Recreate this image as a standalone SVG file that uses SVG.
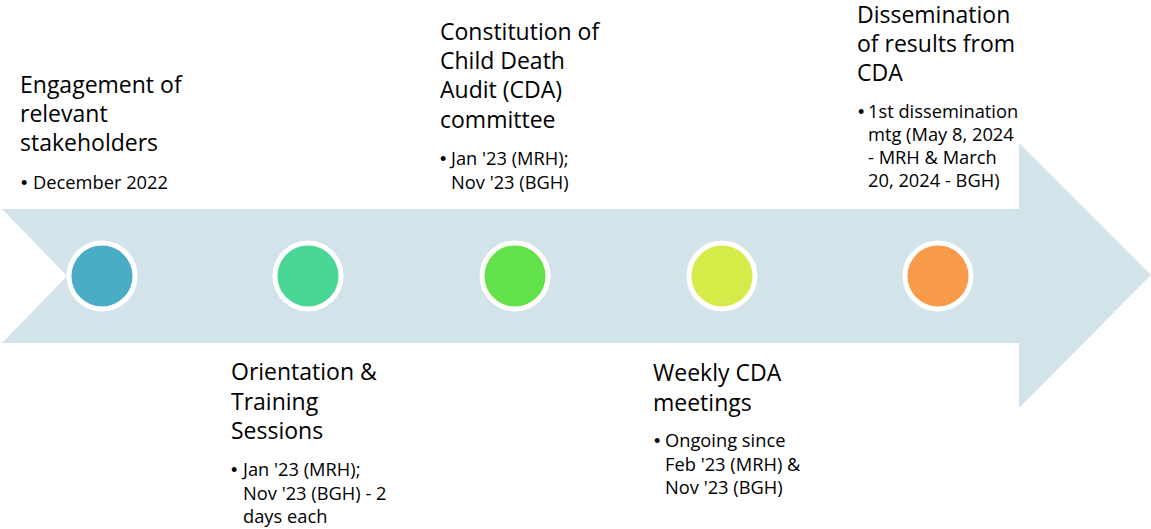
<svg xmlns="http://www.w3.org/2000/svg" width="1151" height="529" viewBox="0 0 1151 529">
<style>
.t{font-family:"Open Sans","Liberation Sans",sans-serif;font-size:23px;fill:#000}
.b{font-family:"Open Sans","Liberation Sans",sans-serif;font-size:18.3px;fill:#000}
.d{font-family:"Liberation Sans",sans-serif;font-size:18px;fill:#000}
.c{stroke:#fff;stroke-width:5}
</style>
<rect width="1151" height="529" fill="#fff"/>
<g id="arrow">
<path d="M2,209 L1019,209 L1019,143 L1151,275 L1019,408 L1019,343 L2,343 L67,276 Z" fill="#D2E3EA"/>
</g>
<g id="connectors"></g>
<g id="n1">
<circle class="c" cx="102" cy="276" r="33" fill="#4BACC6"/>
<text class="t"><tspan x="20" y="93">Engagement of</tspan><tspan x="20" y="122">relevant</tspan><tspan x="20" y="151">stakeholders</tspan></text>
<text class="d" x="21" y="189">•</text>
<text class="b" x="33" y="189">December 2022</text>
</g>
<g id="n2">
<circle class="c" cx="308" cy="276" r="33" fill="#4AD694"/>
<text class="t"><tspan x="231" y="380">Orientation &amp;</tspan><tspan x="231" y="410">Training</tspan><tspan x="231" y="439">Sessions</tspan></text>
<text class="d" x="231" y="476">•</text>
<text class="b"><tspan x="243" y="476">Jan '23 (MRH);</tspan><tspan x="243" y="500">Nov '23 (BGH) - 2</tspan><tspan x="243" y="523">days each</tspan></text>
</g>
<g id="n3">
<circle class="c" cx="515" cy="276" r="33" fill="#63E14A"/>
<text class="t"><tspan x="440" y="40">Constitution of</tspan><tspan x="440" y="69">Child Death</tspan><tspan x="440" y="98">Audit (CDA)</tspan><tspan x="440" y="128">committee</tspan></text>
<text class="d" x="440" y="165">•</text>
<text class="b"><tspan x="451" y="165">Jan '23 (MRH);</tspan><tspan x="451" y="189">Nov '23 (BGH)</tspan></text>
</g>
<g id="n4">
<circle class="c" cx="722" cy="276" r="33" fill="#D6EA48"/>
<text class="t"><tspan x="653" y="381">Weekly CDA</tspan><tspan x="653" y="411">meetings</tspan></text>
<text class="d" x="654" y="447">•</text>
<text class="b"><tspan x="665" y="447">Ongoing since</tspan><tspan x="665" y="471">Feb '23 (MRH) &amp;</tspan><tspan x="665" y="494">Nov '23 (BGH)</tspan></text>
</g>
<g id="n5">
<circle class="c" cx="938" cy="276" r="33" fill="#F79A4A"/>
<text class="t"><tspan x="857" y="23">Dissemination</tspan><tspan x="857" y="52">of results from</tspan><tspan x="857" y="81">CDA</tspan></text>
<text class="d" x="858" y="118">•</text>
<text class="b"><tspan x="868" y="118">1st dissemination</tspan><tspan x="868" y="141">mtg (May 8, 2024</tspan><tspan x="868" y="164">- MRH &amp; March</tspan><tspan x="868" y="187">20, 2024 - BGH)</tspan></text>
</g>
</svg>
